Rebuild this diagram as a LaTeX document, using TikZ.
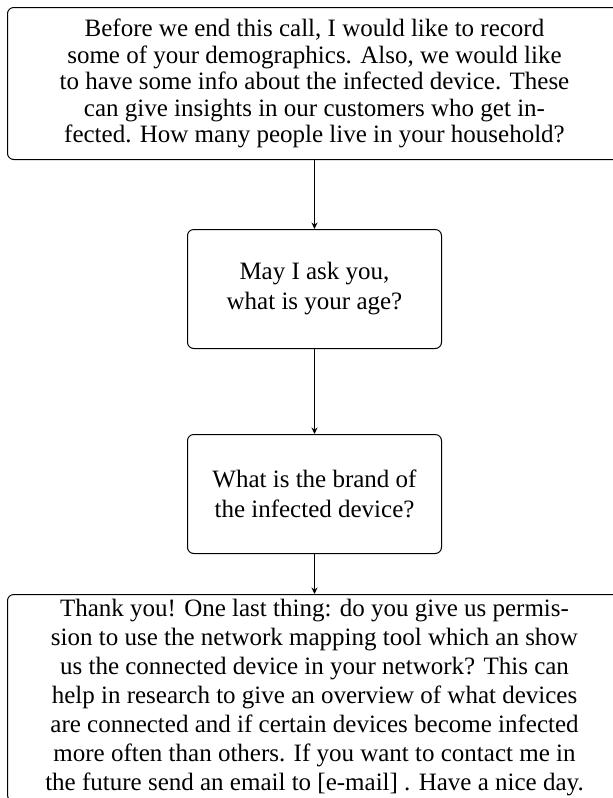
\documentclass[tikz,border=0pt]{standalone}
\usepackage{fontspec}
\setmainfont{Liberation Serif}
\usepackage{tikz}
\usetikzlibrary{arrows.meta,positioning}
\tikzset{
  box/.style={draw, rounded corners=2.5pt, align=center, inner xsep=3pt,
              inner ysep=1pt, font=\fontsize{10}{12}\selectfont},
  wide/.style={box, minimum width=245.6pt},
  ask/.style={box, minimum width=101.6pt, minimum height=47.6pt},
  flow/.style={-{Stealth[length=2.6pt, width=2.4pt]}, line width=0.4pt},
}

\begin{document}
\begin{tikzpicture}
  \clip (0,0) rectangle (245.2pt,-319.2pt);
  \useasboundingbox (0,0) rectangle (245.2pt,-319.2pt);
  % opening question
  \node[wide, minimum height=60.8pt, anchor=north west,
        font=\fontsize{10}{10.6}\selectfont] (intro) at (2.8pt,-2.8pt)
    {Before we end this call, I would like to record\\
     some of your demographics. Also, we would like\\
     to have some info about the infected device. These\\
     can give insights in our customers who get in-\\
     fected. How many people live in your household?};
  % demographics
  \node[ask, below=27.6pt of intro] (age) {May I ask you,\\ what is your age?};
  \node[ask, below=34pt of age] (brand) {What is the brand of\\ the infected device?};
  % closing
  \node[wide, inner ysep=2pt, below=16pt of brand,
        font=\fontsize{10}{11.6}\selectfont] (consent)
    {Thank you! One last thing: do you give us permis-\\
     sion to use the network mapping tool which an show\\
     us the connected device in your network? This can\\
     help in research to give an overview of what devices\\
     are connected and if certain devices become infected\\
     more often than others. If you want to contact me in\\
     the future send an email to [e-mail] . Have a nice day.};
  \draw[flow] (intro) -- (age);
  \draw[flow] (age) -- (brand);
  \draw[flow] (brand) -- (consent);
\end{tikzpicture}
\end{document}
